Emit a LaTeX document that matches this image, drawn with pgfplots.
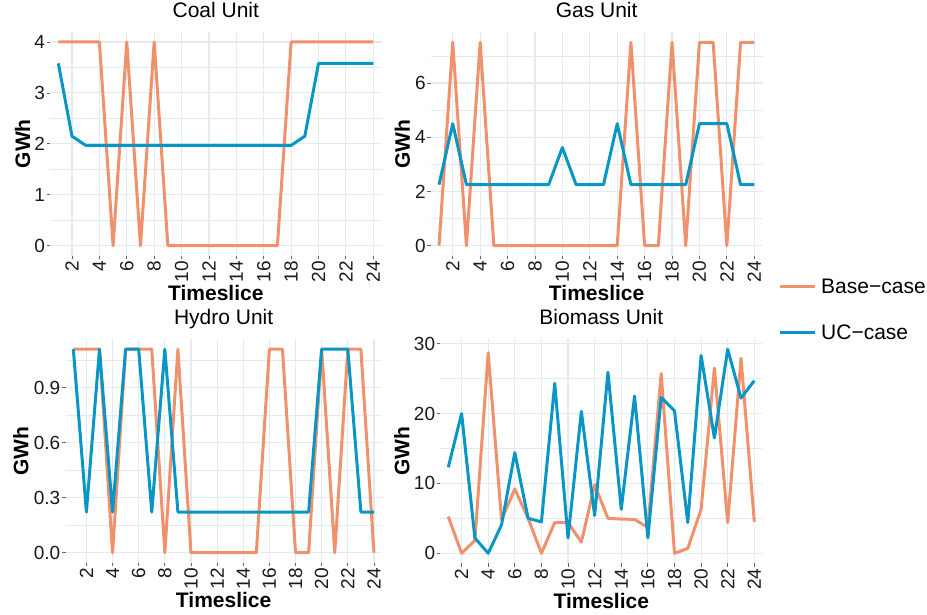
\documentclass[border=0pt]{standalone}
\usepackage{fontspec}
\setmainfont{Liberation Sans}
\usepackage{pgfplots}
\pgfplotsset{compat=1.18}
\definecolor{basec}{RGB}{240,145,108}
\definecolor{ucc}{RGB}{10,150,196}
\definecolor{gridc}{RGB}{228,235,240}
\pgfplotsset{
  unitax/.style={
    scale only axis, anchor=south west,
    xmin=0.4, xmax=24.6, xtick={2,4,...,24},
    axis line style={draw=none},
    tick align=outside, tick pos=left,
    major tick length=3.5pt, minor tick length=0pt,
    tick style={color=black!60, line width=0.8pt},
    xmajorgrids, ymajorgrids, yminorgrids,
    major grid style={gridc, line width=1.1pt},
    minor grid style={gridc, line width=0.6pt},
    /pgf/number format/assume math mode=true,
    ticklabel style={font=\fontsize{19}{22}\selectfont, text=black!90},
    xticklabel style={rotate=90, anchor=east, inner sep=1.5pt},
    yticklabel style={inner sep=1.5pt},
    title style={at={(0.5,1)}, anchor=base, yshift=8.5pt, font=\fontsize{21}{25}\selectfont},
    xlabel={Timeslice}, ylabel={GWh},
    label style={font=\fontsize{21}{25}\selectfont\bfseries},
    xlabel style={at={(axis description cs:0.5,0)}, anchor=base, yshift=-45pt},
    every axis plot/.append style={line width=3pt, line join=round},
  }
}
\begin{document}
\begin{tikzpicture}
\useasboundingbox (0pt,0pt) rectangle (927pt,615pt);
% Coal
\begin{axis}[unitax, at={(50.1pt,359.1pt)}, width=331.4pt, height=224.1pt,
  title={Coal Unit}, ymin=-0.2, ymax=4.2, ytick={0,1,2,3,4},
  minor ytick={0.5,1.5,2.5,3.5},
  ylabel style={at={(axis description cs:-0.060,0.5)}, anchor=base}]
\addplot[basec] coordinates {(1,4)(2,4)(3,4)(4,4)(5,0)(6,4)(7,0)(8,4)(9,0)(10,0)(11,0)(12,0)(13,0)(14,0)(15,0)(16,0)(17,0)(18,4)(19,4)(20,4)(21,4)(22,4)(23,4)(24,4)};
\addplot[ucc] coordinates {(1,3.58)(2,2.15)(3,1.97)(4,1.97)(5,1.97)(6,1.97)(7,1.97)(8,1.97)(9,1.97)(10,1.97)(11,1.97)(12,1.97)(13,1.97)(14,1.97)(15,1.97)(16,1.97)(17,1.97)(18,1.97)(19,2.15)(20,3.58)(21,3.58)(22,3.58)(23,3.58)(24,3.58)};
\end{axis}
% Gas
\begin{axis}[unitax, at={(430.8pt,359.1pt)}, width=331.7pt, height=223.8pt,
  title={Gas Unit}, ymin=-0.375, ymax=7.875, ytick={0,2,4,6},
  minor ytick={1,3,5,7},
  ylabel style={at={(axis description cs:-0.063,0.5)}, anchor=base}]
\addplot[basec] coordinates {(1,0)(2,7.5)(3,0)(4,7.5)(5,0)(6,0)(7,0)(8,0)(9,0)(10,0)(11,0)(12,0)(13,0)(14,0)(15,7.5)(16,0)(17,0)(18,7.5)(19,0)(20,7.5)(21,7.5)(22,0)(23,7.5)(24,7.5)};
\addplot[ucc] coordinates {(1,2.25)(2,4.5)(3,2.25)(4,2.25)(5,2.25)(6,2.25)(7,2.25)(8,2.25)(9,2.25)(10,3.62)(11,2.25)(12,2.25)(13,2.25)(14,4.5)(15,2.25)(16,2.25)(17,2.25)(18,2.25)(19,2.25)(20,4.5)(21,4.5)(22,4.5)(23,2.25)(24,2.25)};
\end{axis}
% Hydro
\begin{axis}[unitax, at={(65.5pt,52.1pt)}, width=316.3pt, height=223.9pt,
  title={Hydro Unit}, ymin=-0.0556, ymax=1.1667, ytick={0,0.3,0.6,0.9},
  minor ytick={0.15,0.45,0.75,1.05},
  yticklabel style={/pgf/number format/.cd, fixed, fixed zerofill, precision=1},
  ylabel style={at={(axis description cs:-0.117,0.5)}, anchor=base}]
\addplot[basec] coordinates {(1,1.111)(2,1.111)(3,1.111)(4,0)(5,1.111)(6,1.111)(7,1.111)(8,0)(9,1.111)(10,0)(11,0)(12,0)(13,0)(14,0)(15,0)(16,1.111)(17,1.111)(18,0)(19,0)(20,1.111)(21,0)(22,1.111)(23,1.111)(24,0)};
\addplot[ucc] coordinates {(1,1.111)(2,0.222)(3,1.111)(4,0.222)(5,1.111)(6,1.111)(7,0.222)(8,1.111)(9,0.222)(10,0.222)(11,0.222)(12,0.222)(13,0.222)(14,0.222)(15,0.222)(16,0.222)(17,0.222)(18,0.222)(19,0.222)(20,1.111)(21,1.111)(22,1.111)(23,0.222)(24,0.222)};
\end{axis}
% Biomass
\begin{axis}[unitax, at={(440.3pt,51.5pt)}, width=322pt, height=224.5pt,
  title={Biomass Unit}, ymin=-1.46, ymax=30.66, ytick={0,10,20,30},
  minor ytick={5,15,25},
  ylabel style={at={(axis description cs:-0.096,0.5)}, anchor=base},
  legend style={draw=none, fill=none, at={(axis description cs:1.0488,1.13)}, anchor=west,
    font=\fontsize{21}{25}\selectfont, row sep=26pt, inner sep=0pt},
  legend cell align=left,
  legend image code/.code={\draw[#1] (0pt,0pt) -- (35pt,0pt); \path (38pt,0pt);}]
\addplot[basec] coordinates {(1,5.25)(2,0)(3,1.85)(4,28.7)(5,4.8)(6,9.2)(7,5.0)(8,0)(9,4.4)(10,4.4)(11,1.6)(12,9.8)(13,5.0)(14,4.9)(15,4.85)(16,3.7)(17,25.7)(18,0)(19,0.7)(20,6.3)(21,26.5)(22,4.4)(23,27.9)(24,4.5)};
\addplot[ucc] coordinates {(1,12.3)(2,20.0)(3,2.2)(4,0)(5,4.05)(6,14.4)(7,5.0)(8,4.5)(9,24.3)(10,2.2)(11,20.3)(12,5.4)(13,25.9)(14,6.3)(15,22.5)(16,2.2)(17,22.3)(18,20.4)(19,4.4)(20,28.3)(21,16.5)(22,29.2)(23,22.2)(24,24.7)};
\legend{Base−case, UC−case}
\end{axis}
\end{tikzpicture}
\end{document}
